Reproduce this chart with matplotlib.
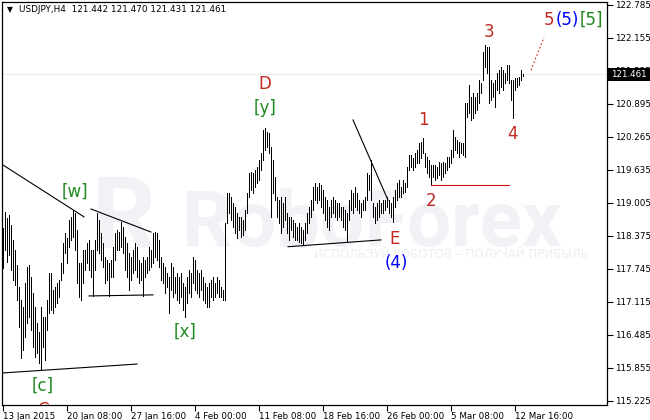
import matplotlib
matplotlib.use("Agg")
import matplotlib.pyplot as plt
from matplotlib.patches import Rectangle
import numpy as np

# ---------------- data (USDJPY H4) ----------------
highs = [
118.53,118.83,118.72,118.78,118.58,118.30,118.11,117.82,117.40,117.15,
117.02,117.48,117.78,117.82,117.59,117.29,117.02,116.71,116.54,117.02,
116.83,116.83,117.15,117.67,117.67,117.34,117.40,117.48,117.54,117.86,
118.24,118.43,118.34,118.68,118.74,118.87,118.81,118.49,117.86,117.86,
118.11,118.11,118.24,118.30,118.11,118.11,118.30,118.81,118.68,118.43,
118.24,117.97,117.92,117.86,117.92,118.17,118.43,118.49,118.45,118.64,
118.55,118.36,118.24,118.05,117.97,118.11,118.24,118.17,117.92,117.86,
117.97,117.92,117.97,118.17,118.11,118.43,118.45,118.43,118.30,117.97,
117.86,117.78,117.67,117.59,117.86,117.78,117.59,117.67,117.59,117.67,
117.48,117.40,117.59,117.73,117.67,117.97,117.92,117.73,117.67,117.73,
117.59,117.48,117.40,117.48,117.54,117.59,117.48,117.59,117.54,117.40,
117.34,118.62,119.20,119.20,119.12,119.00,118.93,118.81,118.74,118.74,
118.68,118.87,119.20,119.58,119.60,119.58,119.63,119.69,119.83,119.96,
120.40,120.44,120.36,120.34,120.07,119.83,119.50,119.12,119.06,119.12,
119.00,119.12,118.81,118.74,118.74,118.68,118.62,118.55,118.62,118.55,
118.49,118.62,118.81,118.93,119.06,119.31,119.39,119.31,119.39,119.35,
119.25,119.12,119.06,118.93,119.06,119.12,119.06,119.00,119.00,118.93,
118.93,118.87,118.81,119.06,119.25,119.20,119.31,119.20,119.06,119.00,
119.06,119.12,119.58,119.54,119.83,119.00,118.93,119.00,119.06,119.00,
119.06,119.06,119.12,119.06,119.00,119.12,119.25,119.39,119.44,119.31,
119.44,119.39,119.69,119.92,119.92,119.86,119.96,120.02,120.15,120.17,
120.25,119.96,119.88,119.83,119.73,119.73,119.73,119.69,119.79,119.77,
119.79,119.77,119.88,119.88,120.02,120.40,120.26,120.21,120.17,120.15,
120.15,120.91,120.91,121.26,121.03,121.10,121.03,121.10,121.35,121.30,
121.89,122.02,121.98,121.98,121.35,121.30,121.35,121.49,121.54,121.60,
121.54,121.49,121.64,121.64,121.35,121.35,121.39,121.39,121.41,121.54,
121.47,
]
lows = [
117.76,118.11,117.88,118.01,117.73,117.54,117.44,117.15,116.64,116.05,
116.20,116.45,116.71,116.83,116.58,116.26,116.06,116.14,115.95,115.82,
116.26,116.01,116.58,116.90,116.96,116.90,117.02,117.10,117.21,117.54,
117.67,118.05,117.86,118.17,118.30,118.36,118.11,117.48,117.21,117.15,
117.48,117.73,117.86,117.73,117.59,117.23,117.73,118.11,118.05,117.92,
117.78,117.48,117.54,117.23,117.59,117.59,117.92,118.11,118.11,118.17,
118.05,117.73,117.59,117.34,117.54,117.67,117.73,117.59,117.48,117.54,
117.23,117.59,117.67,117.73,117.78,117.86,117.97,117.92,117.78,117.54,
117.48,117.29,117.40,116.90,117.34,117.21,117.29,117.15,117.10,117.21,
116.96,116.83,117.10,117.29,117.21,117.48,117.34,117.29,117.21,117.34,
117.15,117.10,117.02,117.02,117.21,117.15,117.21,117.29,117.21,117.21,
117.15,117.15,118.62,118.81,118.68,118.55,118.43,118.34,118.49,118.36,
118.39,118.49,118.81,119.12,119.25,119.20,119.31,119.39,119.44,119.63,
119.83,120.02,120.07,119.96,118.74,119.20,119.06,118.74,118.62,118.43,
118.55,118.68,118.43,118.30,118.49,118.36,118.30,118.30,118.26,118.24,
118.20,118.30,118.43,118.62,118.74,118.87,119.06,119.00,119.06,118.93,
118.81,118.68,118.55,118.49,118.74,118.81,118.74,118.68,118.74,118.68,
118.55,118.49,118.26,118.68,118.87,118.81,118.93,118.87,118.81,118.74,
118.87,118.87,119.06,119.25,119.06,118.74,118.62,118.68,118.74,118.81,
118.81,118.87,118.93,118.81,118.74,118.64,118.93,119.06,119.12,119.12,
119.20,119.22,119.31,119.63,119.69,119.63,119.69,119.77,119.77,119.86,
119.96,119.69,119.58,119.50,119.35,119.50,119.44,119.48,119.54,119.44,
119.50,119.58,119.63,119.69,119.77,119.88,120.02,119.96,119.88,119.96,
119.92,119.88,120.65,120.72,120.59,120.63,120.72,120.78,120.91,121.10,
121.35,121.60,121.49,120.91,120.97,121.03,120.84,121.16,121.10,121.22,
121.16,121.30,121.35,121.30,120.97,120.63,121.16,121.22,121.26,121.35,
121.43,
]
symbol = "USDJPY,H4"
ohlc_last = [121.442, 121.470, 121.431, 121.461]
last_price = 121.461

date_labels = ["13 Jan 2015", "20 Jan 08:00", "27 Jan 16:00", "4 Feb 00:00",
               "11 Feb 08:00", "18 Feb 16:00", "26 Feb 00:00", "5 Mar 08:00",
               "12 Mar 16:00"]
date_bars = [0, 32, 64, 96, 128, 160, 192, 224, 256]

price_ticks = [115.225, 115.855, 116.485, 117.115, 117.745, 118.375, 119.005,
               119.635, 120.265, 120.895, 121.525, 122.155, 122.785]

# trend lines (bar index, price)
black_lines = [
    ((0, 119.73), (40.5, 118.74)),
    ((44, 118.89), (74, 118.45)),
    ((43, 117.23), (75, 117.25)),
    ((0, 115.76), (67, 115.93)),
    ((142.5, 118.17), (189, 118.30)),
    ((175, 120.59), (192.5, 119.06)),
]
red_line = ((214, 119.35), (253, 119.35))
red_dotted = ((264, 121.54), (270.5, 122.17))

RED = "#c02a22"
GREEN = "#1e8a1e"
BLUE = "#0000ff"
wave_labels = [
    ("[w]", 36, 119.22, GREEN),
    ("[x]", 91, 116.55, GREEN),
    ("[c]", 20, 115.51, GREEN),
    ("C", 20, 115.05, RED),
    ("D", 131, 121.28, RED),
    ("[y]", 131, 120.82, GREEN),
    ("E", 196, 118.31, RED),
    ("(4)", 196.5, 117.86, BLUE),
    ("1", 210, 120.59, RED),
    ("2", 214, 119.05, RED),
    ("3", 243, 122.27, RED),
    ("4", 255, 120.32, RED),
    ("5", 273, 122.50, RED),
    ("(5)", 282, 122.50, BLUE),
    ("[5]", 294, 122.50, GREEN),
]

# ---------------- figure ----------------
W, H = 650, 420
fig = plt.figure(figsize=(W / 100, H / 100), dpi=100)
ax = fig.add_axes([2 / W, 15 / H, 605 / W, 403 / H])
ax.set_xlim(-0.5, 302)
ax.set_ylim(115.148, 122.842)

# watermark
wm = "#f1f2f6"
t = ax.text(180 / 605, 1 - (245 - 2) / 403, "RoboForex", transform=ax.transAxes,
            fontsize=60, fontweight="bold", color=wm, ha="left", va="baseline",
            family="Roboto", zorder=0)
fig.canvas.draw()
bb = t.get_window_extent()
t.set_fontsize(60 * 380 / bb.width)
ax.text(122 / 605, 1 - (248 - 2) / 403, "R", transform=ax.transAxes,
        fontsize=72, fontweight="bold", color=wm, ha="center", va="baseline",
        family="Roboto", zorder=0)
ax.text(312 / 605, 1 - (255 - 2) / 403, "ИСПОЛЬЗУЙ РОБОТОВ – ПОЛУЧАЙ ПРИБЫЛЬ",
        transform=ax.transAxes, fontsize=8.6, color="#eceef3", ha="left",
        va="center", family="DejaVu Sans", zorder=0)

# current price line
ax.axhline(last_price, color="#ececec", lw=0.7, zorder=1)

# bars
idx = np.arange(len(highs))
ax.vlines(idx, lows, highs, color="black", lw=0.6, zorder=3, antialiased=False)

# annotation lines
for (x0, y0), (x1, y1) in black_lines:
    ax.plot([x0, x1], [y0, y1], color="black", lw=0.8, zorder=4)
ax.plot([red_line[0][0], red_line[1][0]], [red_line[0][1], red_line[1][1]],
        color="#d01010", lw=0.8, zorder=4)
ax.plot([red_dotted[0][0], red_dotted[1][0]], [red_dotted[0][1], red_dotted[1][1]],
        color="#e02020", lw=0.8, ls=(0, (1.5, 2)), zorder=4)

for txt, x, y, c in wave_labels:
    ax.text(x, y, txt, color=c, fontsize=12, ha="center", va="center",
            family="DejaVu Sans", zorder=5, clip_on=True)

# header
ax.text(5 / 605, 1 - 8 / 403, "▼", transform=ax.transAxes, fontsize=5.5,
        ha="left", va="center", color="black", family="DejaVu Sans")
ax.text(17 / 605, 1 - 8 / 403,
        symbol + "  " + " ".join(f"{v:.3f}" for v in ohlc_last),
        transform=ax.transAxes, fontsize=6.4, ha="left", va="center",
        color="black", family="DejaVu Sans")

# axes styling
for s in ax.spines.values():
    s.set_color("black")
    s.set_linewidth(0.9)
ax.yaxis.tick_right()
ax.set_yticks(price_ticks)
ax.set_yticklabels([f"{v:.3f}" for v in price_ticks])
ax.set_xticks(date_bars)
ax.set_xticklabels(date_labels, ha="left")
ax.tick_params(axis="y", direction="out", length=4, width=0.8, labelsize=6.3,
               pad=2, colors="black")
ax.tick_params(axis="x", direction="out", length=4, width=0.8, labelsize=6.3,
               pad=1, colors="black")
for lab in ax.get_xticklabels() + ax.get_yticklabels():
    lab.set_family("DejaVu Sans")

# current price box (covers the axis label area up to the right edge)
yfrac = ax.transAxes.inverted().transform(ax.transData.transform((0, last_price)))[1]
box_h = 13 / 403
ax.add_patch(Rectangle((608 / 605 - 2 / 605, yfrac - box_h / 2), 44 / 605, box_h,
                       transform=ax.transAxes, fc="black", ec="none",
                       clip_on=False, zorder=10))
ax.text(611 / 605 - 2 / 605, last_price, f"{last_price:.3f}",
        transform=ax.get_yaxis_transform(), fontsize=6.3, color="white",
        ha="left", va="center", family="DejaVu Sans", zorder=11, clip_on=False)

fig.savefig("out.png", dpi=100)
